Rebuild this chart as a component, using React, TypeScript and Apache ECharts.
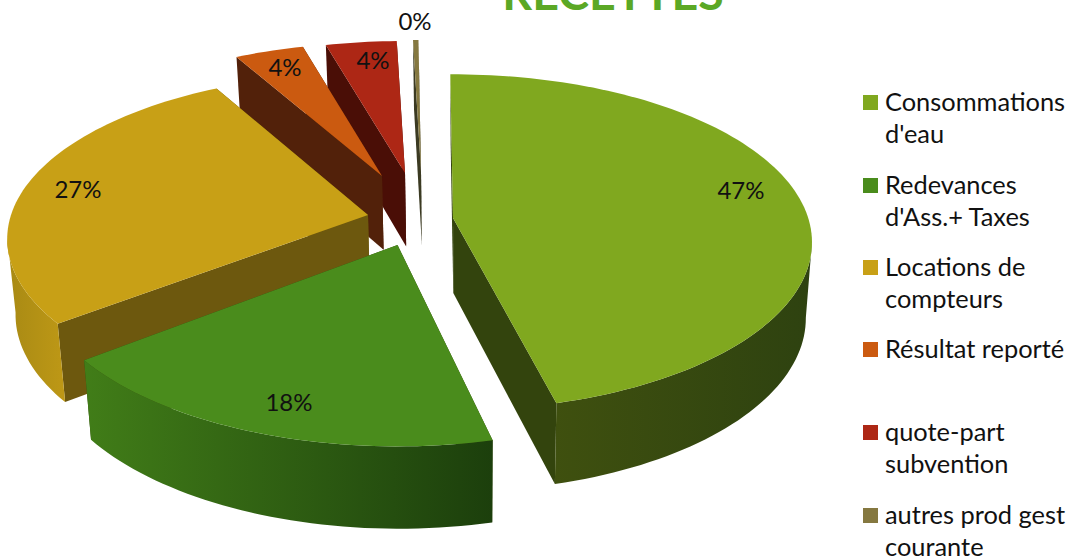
import React, { useEffect, useRef } from "react";
import * as echarts from "echarts";

const titleText = "RECETTES";
const categories = [
  "Consommations\nd'eau",
  "Redevances\nd'Ass.+ Taxes",
  "Locations de\ncompteurs",
  "Résultat reporté",
  "quote-part\nsubvention",
  "autres prod gest\ncourante",
];
const percents = [46.5, 18.2, 27.5, 3.7, 3.8, 0.3];
const percentLabels = ["47%", "18%", "27%", "4%", "4%", "0%"];

const topColors = ["#80A81F", "#4A8C1C", "#C8A016", "#CB5A10", "#AD2715", "#857840"];
const wallColors = ["#33440D", "#33440D", "#6D580E", "#52210A", "#4A0E06", "#3B3A22"];
const rimFrom = ["#3F500F", "#417D18", "#A88A14", "#52210A", "#4A0E06", "#3B3A22"];
const rimTo = ["#2E4210", "#1C3F0C", "#BE9816", "#52210A", "#4A0E06", "#3B3A22"];
const legendColors = ["#80A81F", "#4A8C1C", "#C8A016", "#CB5A10", "#AD2715", "#857840"];

// Layout of the exploded perspective pie
const apexX = [453, 397.5, 368, 382, 405, 421];
const apexY = [218, 245, 215, 176, 173, 172];
const sliceScaleX = [0.995, 1.01, 1, 0.96, 0.96, 0.93];
const sliceScaleY = [1.012, 1.06, 1, 0.94, 0.93, 0.93];
const endTrimDeg = [1.4, 0, 0, 0, 0, 0];
const labelX = [741, 289, 78, 285, 373, 415];
const labelY = [189, 401, 188, 66, 59, 20];
const legendY = [85, 168, 250, 332, 415, 498];
const swatchY = [95, 178, 260, 342, 425, 508];
const drawOrder = [5, 4, 3, 2, 1, 0];
const RX = 357;
const RY = 162.5;
const K = 0.1447;
const START_DEG = -0.5;
const FONT = "Lato, 'Open Sans', sans-serif";

const total = percents.reduce((a, b) => a + b, 0);

function project(i: number, deg: number): [number, number] {
  const a = (deg * Math.PI) / 180;
  const u = Math.sin(a);
  const v = -Math.cos(a);
  const d = 1 - K * v;
  return [apexX[i] + (sliceScaleX[i] * u * RX) / d, apexY[i] + (sliceScaleY[i] * v * RY) / d];
}

function drop(p: [number, number]): [number, number] {
  const xc = 470;
  return [xc + (p[0] - xc) * 0.982, p[1] + 75 + 0.032 * (p[1] - 217)];
}

function renderSlice(params: any) {
  const i = drawOrder[params.dataIndex];
  let start = START_DEG;
  for (let k = 0; k < i; k++) start += (percents[k] / total) * 360;
  const end = start + (percents[i] / total) * 360 - endTrimDeg[i];

  const arc: [number, number][] = [];
  const steps = Math.max(2, Math.ceil((end - start) / 1.5));
  for (let s = 0; s <= steps; s++) arc.push(project(i, start + ((end - start) * s) / steps));

  const apex: [number, number] = [apexX[i], apexY[i]];
  const poly = (points: [number, number][], fill: any) => ({
    type: "polygon",
    silent: true,
    shape: { points },
    style: { fill },
  });

  const last = arc[arc.length - 1];
  const wallA = [apex, arc[0], drop(arc[0]), drop(apex)] as [number, number][];
  const wallB = [apex, last, drop(last), drop(apex)] as [number, number][];
  const children: any[] = [];

  // radial walls (back one first), then the rim, then the top face
  const backFirst = arc[0][1] < last[1];
  children.push(poly(backFirst ? wallA : wallB, wallColors[i]));
  children.push(poly(backFirst ? wallB : wallA, wallColors[i]));

  const visible: [number, number][] = [];
  for (let s = 1; s < arc.length; s++) {
    if (arc[s][0] < arc[s - 1][0]) {
      if (visible.length === 0) visible.push(arc[s - 1]);
      visible.push(arc[s]);
    }
  }
  if (visible.length > 1) {
    const rim = visible.concat(visible.slice().reverse().map(drop));
    children.push(
      poly(
        rim,
        new echarts.graphic.LinearGradient(0, 0, 1, 0, [
          { offset: 0, color: rimFrom[i] },
          { offset: 1, color: rimTo[i] },
        ])
      )
    );
  }

  children.push(poly([apex, ...arc], topColors[i]));
  children.push({
    type: "text",
    silent: true,
    style: {
      text: percentLabels[i],
      x: labelX[i],
      y: labelY[i],
      align: "center",
      verticalAlign: "middle",
      fill: "#111",
      font: `24px ${FONT}`,
    },
  });
  return { type: "group", children };
}

export default function App() {
  const ref = useRef<HTMLDivElement>(null);
  useEffect(() => {
    const chart = echarts.init(ref.current!, undefined, { renderer: "svg" });
    const legend: any[] = [];
    categories.forEach((name, i) => {
      legend.push({
        type: "rect",
        silent: true,
        shape: { x: 863, y: swatchY[i], width: 15, height: 15 },
        style: { fill: legendColors[i] },
      });
      legend.push({
        type: "text",
        silent: true,
        style: {
          text: name,
          x: 885,
          y: legendY[i],
          fill: "#111",
          font: `25.4px ${FONT}`,
          lineHeight: 32,
          verticalAlign: "top",
          align: "left",
        },
      });
    });
    chart.setOption({
      animation: false,
      backgroundColor: "#fff",
      title: {
        text: titleText,
        left: 608,
        top: -37,
        textAlign: "center",
        textStyle: { color: "#5BA825", fontFamily: FONT, fontWeight: "bold", fontSize: 46.5 },
      },
      graphic: legend,
      series: [
        {
          type: "custom",
          coordinateSystem: "none",
          renderItem: renderSlice,
          data: drawOrder.map((i) => ({ name: categories[i], value: percents[i] })),
        },
      ],
    });
    return () => chart.dispose();
  }, []);
  return (
    <div
      ref={ref}
      style={{ position: "absolute", left: 0, top: 0, width: 1068, height: 557 }}
    />
  );
}
